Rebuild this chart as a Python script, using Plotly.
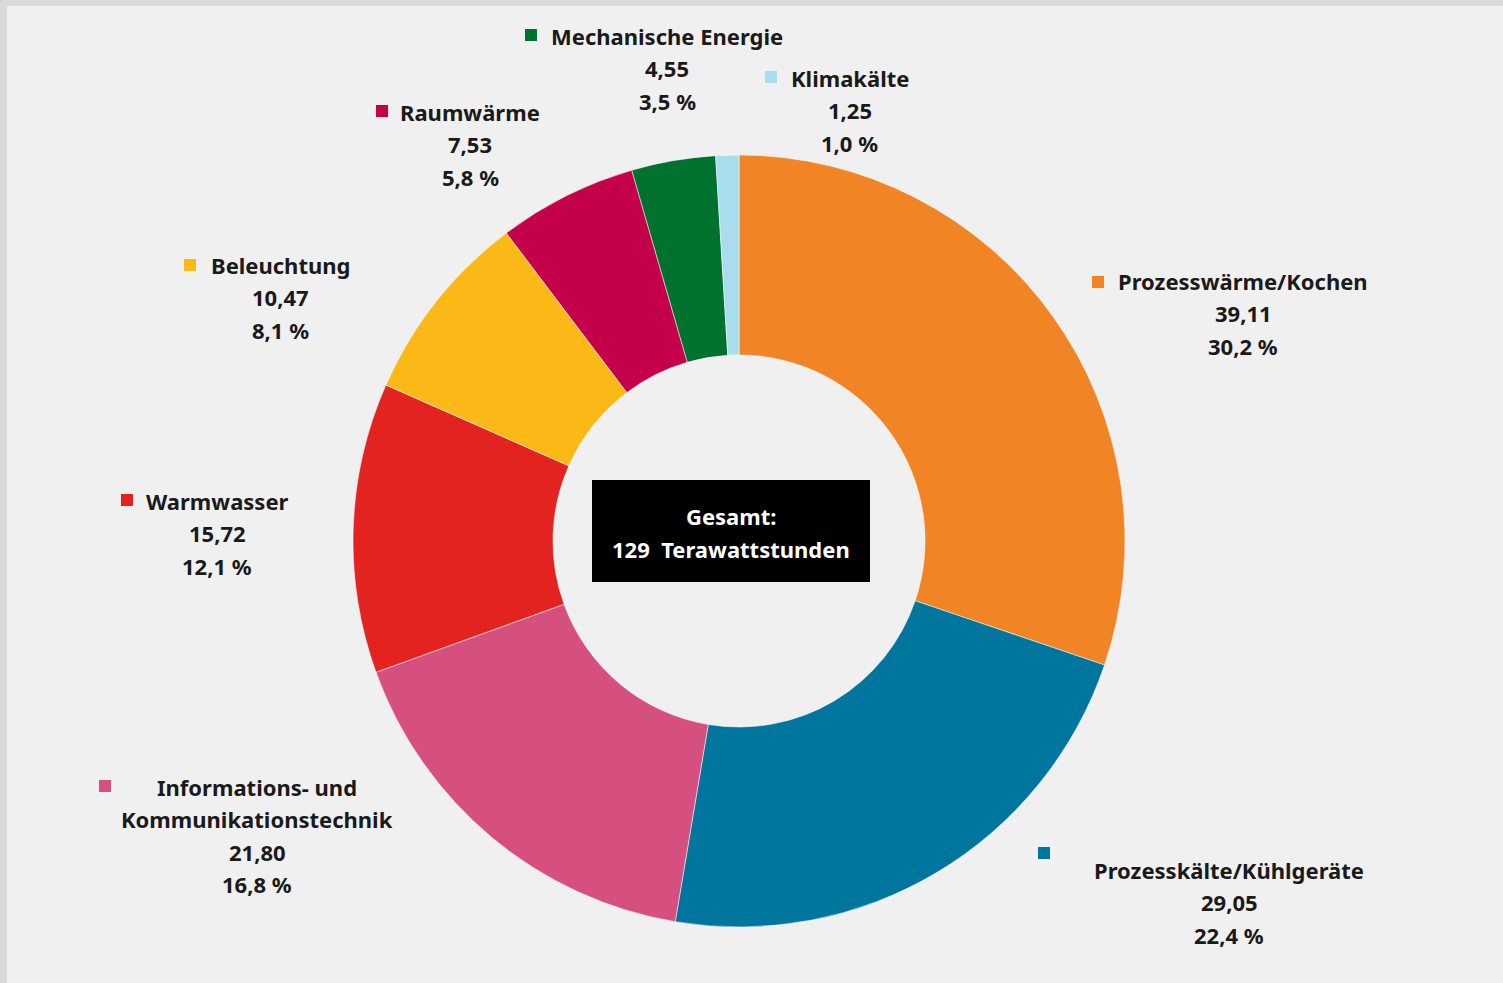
import plotly.graph_objects as go

# ---- data ----
categories = ["Prozesswärme/Kochen", "Prozesskälte/Kühlgeräte",
              "Informations- und Kommunikationstechnik", "Warmwasser",
              "Beleuchtung", "Raumwärme", "Mechanische Energie", "Klimakälte"]
values_twh = [39.11, 29.05, 21.80, 15.72, 10.47, 7.53, 4.55, 1.25]
colors = ["#F18424", "#00769F", "#D6507F", "#E2231F",
          "#FBB918", "#C4004A", "#00712F", "#A9DDED"]
total_label = "129"

W, H = 1503, 983

def px(x):
    return x / W

def py(y):
    return 1 - y / H

def de(v, d):
    return f"{v:.{d}f}".replace(".", ",")

total = sum(values_twh)

fig = go.Figure()

# pie geometry (layout)
cx, cy, r = 739, 541, 386
fig.add_trace(go.Pie(
    labels=categories, values=values_twh, sort=False, direction="clockwise",
    rotation=0, hole=0.482, textinfo="none", hoverinfo="label+value+percent",
    marker=dict(colors=colors, line=dict(color="white", width=0.5)),
    domain=dict(x=[px(cx - r), px(cx + r)], y=[py(cy + r), py(cy - r)]),
    showlegend=False,
))

# label layout: (square x, square y, text center x, first line y)
label_pos = [
    (1098, 282, 1243, 281),
    (1044, 853, 1229, 870),
    (105, 786, 257, 787),
    (127, 500, 217, 501),
    (190, 265, 280, 265),
    (382, 111, 470, 112),
    (531, 35, 667, 36),
    (771, 77, 850, 78),
]
name_lines = [
    ["Prozesswärme/Kochen"], ["Prozesskälte/Kühlgeräte"],
    ["Informations- und", "Kommunikationstechnik"], ["Warmwasser"],
    ["Beleuchtung"], ["Raumwärme"], ["Mechanische Energie"], ["Klimakälte"],
]

FONT = "Noto Sans"
FS = 22
LH = 32.3
shapes = []
annotations = []
for i, (sx, sy, tx, ty) in enumerate(label_pos):
    s = 6
    shapes.append(dict(type="rect", xref="paper", yref="paper",
                       x0=px(sx - s), x1=px(sx + s), y0=py(sy + s), y1=py(sy - s),
                       fillcolor=colors[i], line=dict(width=0), layer="above"))
    lines = list(name_lines[i]) + [de(values_twh[i], 2),
                                   de(values_twh[i] / total * 100, 1) + " %"]
    for k, t in enumerate(lines):
        annotations.append(dict(
            x=px(tx), y=py(ty + k * LH), xref="paper", yref="paper",
            text=f"<b>{t}</b>", showarrow=False, xanchor="center", yanchor="middle",
            font=dict(family=FONT, size=FS, color="#1a1a1a")))

# background
shapes.insert(0, dict(type="rect", xref="paper", yref="paper",
                      x0=px(7), x1=1, y0=0, y1=py(6),
                      fillcolor="#f0f0f0", line=dict(width=0), layer="below"))
# center box
shapes.append(dict(type="rect", xref="paper", yref="paper",
                   x0=px(592), x1=px(870), y0=py(582), y1=py(480),
                   fillcolor="#000000", line=dict(width=0), layer="above"))
annotations.append(dict(x=px(731), y=py(516), xref="paper", yref="paper",
                        text="<b>Gesamt:</b>", showarrow=False,
                        font=dict(family=FONT, size=FS, color="white")))
annotations.append(dict(x=px(731), y=py(549), xref="paper", yref="paper",
                        text=f"<b>{total_label}  Terawattstunden</b>", showarrow=False,
                        font=dict(family=FONT, size=FS, color="white")))

fig.update_layout(
    width=W, height=H, margin=dict(l=0, r=0, t=0, b=0),
    paper_bgcolor="#dadada", plot_bgcolor="#f0f0f0",
    shapes=shapes, annotations=annotations,
)

fig.write_html("out.html",
               config={"displayModeBar": False},
               post_script="document.body.style.margin='0';"
                           "document.body.style.background='#dadada';"
                           "document.body.style.overflow='hidden';")
